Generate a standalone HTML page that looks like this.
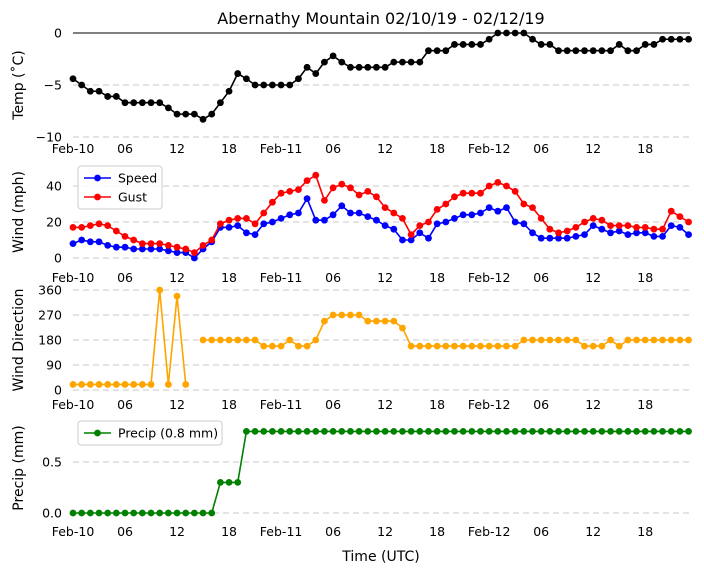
<!DOCTYPE html>
<html><head><meta charset="utf-8"><style>
body{margin:0;background:#fff;font-family:"Liberation Sans","DejaVu Sans",sans-serif}
svg{display:block}
text{font-family:"DejaVu Sans","Liberation Sans",sans-serif}
</style></head><body>
<svg id="c" width="704" height="573" viewBox="0 0 704 573"></svg>
<script>
const hours = Array.from({length:72},(_, i)=>i);
const tickHours = [0,6,12,18,24,30,36,42,48,54,60,66];
const tickLabels = ["Feb-10","06","12","18","Feb-11","06","12","18","Feb-12","06","12","18"];
const temp = [-4.4,-5.0,-5.6,-5.6,-6.1,-6.1,-6.7,-6.7,-6.7,-6.7,-6.7,-7.2,-7.8,-7.8,-7.8,-8.3,-7.8,-6.7,-5.6,-3.9,-4.4,-5.0,-5.0,-5.0,-5.0,-5.0,-4.4,-3.3,-3.9,-2.8,-2.2,-2.8,-3.3,-3.3,-3.3,-3.3,-3.3,-2.8,-2.8,-2.8,-2.8,-1.7,-1.7,-1.7,-1.1,-1.1,-1.1,-1.1,-0.6,0,0,0,0,-0.6,-1.1,-1.1,-1.7,-1.7,-1.7,-1.7,-1.7,-1.7,-1.7,-1.1,-1.7,-1.7,-1.1,-1.1,-0.6,-0.6,-0.6,-0.6];
const speed = [8,10,9,9,7,6,6,5,5,5,5,4,3,3,0,5,9,17,17,18,14,13,19,20,22,24,25,33,21,21,24,29,25,25,23,21,18,16,10,10,14,11,19,20,22,24,24,25,28,26,28,20,19,14,11,11,11,11,12,13,18,16,14,15,13,14,14,12,12,18,17,13];
const gust = [17,17,18,19,18,15,12,10,8,8,8,7,6,5,3,7,10,19,21,22,22,19,25,31,36,37,38,43,46,32,39,41,39,35,37,34,28,25,22,13,18,20,27,30,34,36,36,36,40,42,40,37,30,28,22,16,14,15,17,20,22,21,18,18,18,17,17,16,16,26,23,20];
const dir = [20,20,20,20,20,20,20,20,20,20,360,20,338,20,null,180,180,180,180,180,180,180,158,158,158,180,158,158,180,248,270,270,270,270,248,248,248,248,223,158,158,158,158,158,158,158,158,158,158,158,158,158,180,180,180,180,180,180,180,158,158,158,180,158,180,180,180,180,180,180,180,180];
const precip = [0,0,0,0,0,0,0,0,0,0,0,0,0,0,0,0,0,0.3,0.3,0.3,0.8,0.8,0.8,0.8,0.8,0.8,0.8,0.8,0.8,0.8,0.8,0.8,0.8,0.8,0.8,0.8,0.8,0.8,0.8,0.8,0.8,0.8,0.8,0.8,0.8,0.8,0.8,0.8,0.8,0.8,0.8,0.8,0.8,0.8,0.8,0.8,0.8,0.8,0.8,0.8,0.8,0.8,0.8,0.8,0.8,0.8,0.8,0.8,0.8,0.8,0.8,0.8];

const svg=document.getElementById('c');
const NS='http://www.w3.org/2000/svg';
function mk(tag,attrs,parent){const e=document.createElementNS(NS,tag);for(const k in attrs)e.setAttribute(k,attrs[k]);(parent||svg).appendChild(e);return e;}
const X0=73, PXH=8.67, XEND=690;
const xs=h=>X0+h*PXH;

const panels=[
 {name:'temp',y0v:0,y0:33,yv1:-10,y1:137,ticks:[0,-5,-10],tl:["0","−5","−10"],title:"Temp (˚C)",tcy:85,xl:153},
 {name:'wind',y0v:0,y0:258,yv1:40,y1:186,ticks:[0,20,40],tl:["0","20","40"],title:"Wind (mph)",tcy:212,xl:282},
 {name:'direction',y0v:0,y0:390,yv1:360,y1:290,ticks:[0,90,180,270,360],tl:["0","90","180","270","360"],title:"Wind Direction",tcy:340,xl:409},
 {name:'precip',y0v:0,y0:513,yv1:0.5,y1:462,ticks:[0,0.5],tl:["0.0","0.5"],title:"Precip (mm)",tcy:468,xl:536}
];
panels.forEach(p=>{p.ys=v=>p.y0+(v-p.y0v)*(p.y1-p.y0)/(p.yv1-p.y0v);});

mk('text',{x:381,y:24,'font-size':16,'text-anchor':'middle',}).textContent="Abernathy Mountain 02/10/19 - 02/12/19";

panels.forEach(p=>{
  const g=mk('g',{});
  
  
  p.ticks.forEach((t,i)=>{
    const y=p.ys(t);
    const solid=(p.name==='temp'&&t===0);
    const l=mk('line',{x1:X0,x2:XEND,y1:y,y2:y,stroke:solid?'#000':'#c8c8c8','stroke-width':solid?1:1,'stroke-dasharray':solid?'none':'6,4'},g);
    
    
    const tx=mk('text',{x:62,y:y+4.5,'font-size':12.5,'text-anchor':'end'},g);
    
    
    tx.textContent=p.tl[i];
  });
  tickHours.forEach((h,i)=>{
    const tx=mk('text',{x:xs(h),y:p.xl,'font-size':12.5,'text-anchor':'middle'},g);
    
    
    tx.textContent=tickLabels[i];
  });
  const yt=mk('text',{x:0,y:0,'font-size':14,'text-anchor':'middle',transform:`translate(23,${p.tcy}) rotate(-90)`},g);
  
  
  yt.textContent=p.title;
});

function series(p,vals,color,name){
  const g=mk('g',{});
  
  
  let d='',pen=false;
  vals.forEach((v,i)=>{
    if(v===null){pen=false;return;}
    d+=(pen?'L':'M')+xs(hours[i]).toFixed(2)+','+p.ys(v).toFixed(2);pen=true;
  });
  mk('path',{d:d,fill:'none',stroke:color,'stroke-width':1.6},g);
  vals.forEach((v,i)=>{
    if(v===null)return;
    const c=mk('circle',{cx:xs(hours[i]),cy:p.ys(v),r:3.4,fill:color},g);
    
    
  });
}
series(panels[0],temp,'#000','temp');
series(panels[1],speed,'#0000ff','speed');
series(panels[1],gust,'#ff0000','gust');
series(panels[2],dir,'#ffa500','direction');
series(panels[3],precip,'#008000','precip');

function legend(x,y,w,entries,name){
  const g=mk('g',{});
  
  
  mk('rect',{x:x,y:y,width:w,height:entries.length*19+5,fill:'#fff','fill-opacity':0.85,stroke:'#ccc',rx:3},g);
  entries.forEach((e,i)=>{
    const cy=y+12+i*19;
    const eg=mk('g',{},g);
    
    
    mk('line',{x1:x+6,x2:x+33,y1:cy,y2:cy,stroke:e[1],'stroke-width':1.6},eg);
    mk('circle',{cx:x+19.5,cy:cy,r:3.4,fill:e[1]},eg);
    const t=mk('text',{x:x+40,y:cy+4.5,'font-size':12.5},eg);
    t.textContent=e[0];
  });
}
legend(78,166,84,[["Speed","#0000ff"],["Gust","#ff0000"]],'wind-legend');
legend(78,421,144,[["Precip (0.8 mm)","#008000"]],'precip-legend');

mk('text',{x:381,y:561,'font-size':14,'text-anchor':'middle',}).textContent="Time (UTC)";
</script>
</body></html>
